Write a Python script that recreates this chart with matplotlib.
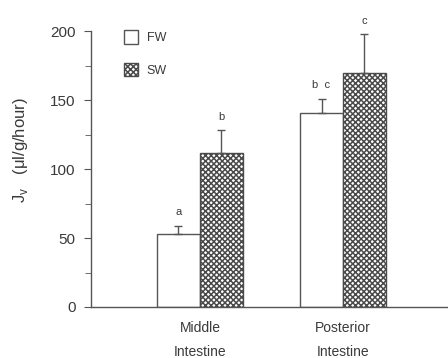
import matplotlib.pyplot as plt
import numpy as np

plt.rcParams['font.family'] = ['Liberation Sans', 'DejaVu Sans']
plt.rcParams['hatch.linewidth'] = 1.1

# data
categories = ["Middle\nIntestine", "Posterior\nIntestine"]
fw_vals = [53, 141]
fw_err = [6, 10]
sw_vals = [112, 170]
sw_err = [16, 28]
fw_sig = ["a", "b  c"]
sw_sig = ["b", "c"]

txt = '#3a3a3a'
x = np.arange(len(categories))
w = 0.3

fig = plt.figure(figsize=(4.48, 3.58), dpi=100)
ax = fig.add_axes([0.203, 0.1425, 0.797, 0.7705])

b1 = ax.bar(x - w/2, fw_vals, w, color='white', edgecolor='#555555', linewidth=1.0,
            yerr=[np.zeros(len(fw_err)), fw_err], capsize=3,
            error_kw=dict(ecolor='#555555', elinewidth=1.0, capthick=1.0), label='FW')
b2 = ax.bar(x + w/2, sw_vals, w, color='white', edgecolor='#4a4a4a', linewidth=1.0,
            hatch='xxxxxx',
            yerr=[np.zeros(len(sw_err)), sw_err], capsize=3,
            error_kw=dict(ecolor='#555555', elinewidth=1.0, capthick=1.0), label='SW')

for i in range(len(categories)):
    ax.text(x[i] - w/2, fw_vals[i] + fw_err[i] + 6, fw_sig[i], ha='center', va='bottom',
            fontsize=8, color=txt)
    ax.text(x[i] + w/2, sw_vals[i] + sw_err[i] + 6, sw_sig[i], ha='center', va='bottom',
            fontsize=8, color=txt)

ax.set_xlim(-0.762, 1.734)
ax.set_ylim(0, 200)
ax.set_yticks([0, 50, 100, 150, 200])
ax.set_yticks([25, 75, 125, 175], minor=True)
ax.set_xticks(x)
ax.set_xticklabels(categories, fontsize=10, color=txt, linespacing=1.9)
ax.tick_params(axis='x', length=0, pad=10)
ax.tick_params(axis='y', which='major', length=5, labelsize=11, labelcolor=txt,
               color='#555555', pad=6)
ax.tick_params(axis='y', which='minor', length=4, color='#555555')
for s in ['top', 'right']:
    ax.spines[s].set_visible(False)
for s in ['left', 'bottom']:
    ax.spines[s].set_color('#555555')
    ax.spines[s].set_linewidth(1.0)

ax.set_ylabel(r'J$_\mathregular{v}$   ($\mathregular{\mu}$l/g/hour)', fontsize=12,
              color=txt)
ax.yaxis.set_label_coords(-0.17, 0.57)

ax.legend(handles=[b1, b2], loc='upper left', bbox_to_anchor=(0.06, 1.045), frameon=False,
          fontsize=9, handlelength=1.15, handleheight=1.3, labelspacing=1.5,
          handletextpad=0.7, labelcolor=txt)

fig.savefig('out.png', dpi=100)
